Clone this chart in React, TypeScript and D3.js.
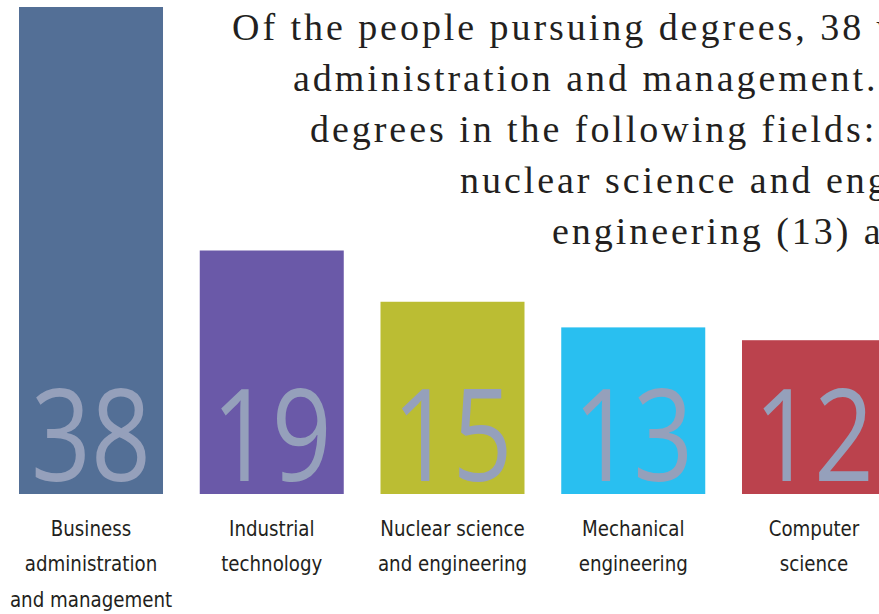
import React from "react";
import * as d3 from "d3";

const categories = [
  "Business administration and management",
  "Industrial technology",
  "Nuclear science and engineering",
  "Mechanical engineering",
  "Computer science",
];
const values = [38, 19, 15, 13, 12];
const labelLines = [
  ["Business", "administration", "and management"],
  ["Industrial", "technology"],
  ["Nuclear science", "and engineering"],
  ["Mechanical", "engineering"],
  ["Computer", "science"],
];
const barColors = ["#536f96", "#6a59a8", "#bbbd33", "#29bff0", "#bb424d"];
const titleLines = [
  "Of the people pursuing degrees, 38 were in business",
  "administration and management. Others were pursuing",
  "degrees in the following fields: industrial technology (19),",
  "nuclear science and engineering (15), mechanical",
  "engineering (13) and computer science (12).",
];

const W = 879;
const H = 614;
const titleX = [232, 293, 310, 460, 552];

export default function App() {
  const x = d3
    .scaleBand<string>()
    .domain(categories)
    .range([19, 886])
    .paddingInner(0.2033)
    .paddingOuter(0);
  const y = d3.scaleLinear().domain([0, 38]).range([494, 7]);
  const bw = x.bandwidth();

  return (
    <div style={{ position: "absolute", left: 0, top: 0, width: W, height: H, overflow: "hidden" }}>
      <svg width={W} height={H} style={{ display: "block", background: "#ffffff" }}>
        <g>
          {titleLines.map((t, i) => (
            <text
              key={i}
              x={titleX[i]}
              y={40 + i * 51}
              fontFamily="'Liberation Serif', 'DejaVu Serif', serif"
              fontSize={38}
              letterSpacing={2.95}
              fill="#231f20"
            >
              {t}
            </text>
          ))}
        </g>
        {categories.map((c, i) => {
          const x0 = x(c) as number;
          const cx = x0 + bw / 2;
          return (
            <g key={c}>
              <rect x={x0} y={y(values[i])} width={bw} height={y(0) - y(values[i])} fill={barColors[i]} />
              <text
                transform={`translate(${cx},481) scale(0.82,1)`}
                textAnchor="middle"
                fontFamily="'Open Sans', Roboto, Lato, sans-serif"
                fontWeight={400}
                fontSize={128}
                fill="#95a0bb"
              >
                {values[i]}
              </text>
              <g transform={`translate(${cx},536) scale(0.965,1)`}>
                {labelLines[i].map((l, j) => (
                  <text
                    key={j}
                    x={0}
                    y={j * 35.5}
                    textAnchor="middle"
                    fontFamily="'DejaVu Sans Condensed', 'Liberation Sans Narrow', sans-serif"
                    fontSize={21}
                    fill="#231f20"
                  >
                    {l}
                  </text>
                ))}
              </g>
            </g>
          );
        })}
      </svg>
    </div>
  );
}
